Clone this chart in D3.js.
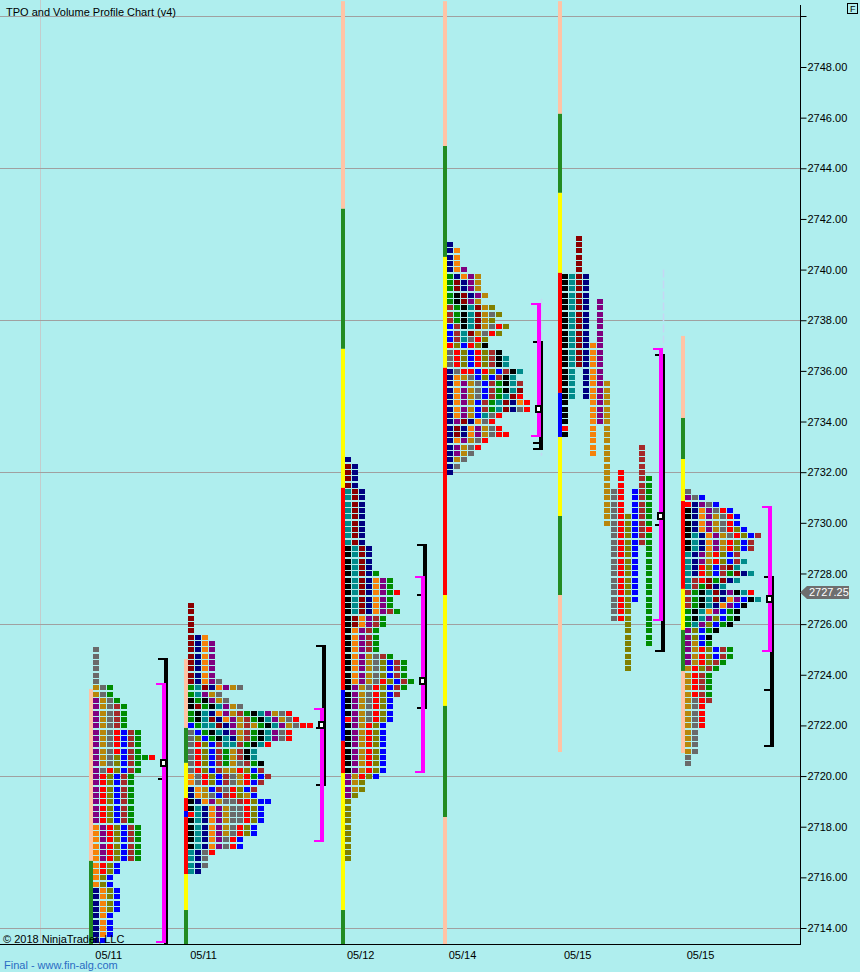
<!DOCTYPE html>
<html lang="en">
<head>
<meta charset="utf-8">
<script src="https://d3js.org/d3.v7.min.js"></script>
<style>
  body { margin: 0; background: #AFEEEE; }
  text { font-family: "Liberation Sans", Arial, sans-serif; }
</style>
</head>
<body>
<script>
// price axis
const priceTicks = [2714, 2716, 2718, 2720, 2722, 2724, 2726, 2728, 2730, 2732,
                    2734, 2736, 2738, 2740, 2742, 2744, 2746, 2748];
const gridPrices = [2714, 2720, 2726, 2732, 2738, 2744, 2750];
const tickSize = 0.25;
const lastPrice = 2727.25;

// sessions (bar index of first TPO column)
const dateLabels = ["05/11", "05/11", "05/12", "05/14", "05/15", "05/15"];
const sessionBar = [13.3, 26.85, 49.3, 63.85, 80.3, 97.85];
const topPrice = [2725.0, 2726.75, 2732.5, 2741.0, 2741.25, 2731.25];

// one letter per 30 min period colour
const periodColor = {
  k: "#000000", n: "#000080", m: "#8B0000", t: "#008B8B", G: "#008C00",
  O: "#F5820A", p: "#800080", d: "#B8860B", g: "#6A6A6A", r: "#FF0000",
  o: "#808000", B: "#0000FF", b: "#A52A2A"
};
const volColor = { P: "#FFC3A5", G: "#228B22", Y: "#FFFF00", R: "#FF0000", B: "#0000FF" };

// TPO rows, top price downwards, left to right
const profile1 = [
  "g", "g", "g", "g", "g", "g",
  "dgG", "dgG", "pdgG",
  "pdgbG", "pdgbG", "pdgbG", "pdgbG",
  "pdgrBbG", "pdgrBbG", "pdgrBbG", "pdgrBbG",
  "pdgoBbGGr", "pdgoBbG", "pgroBbG",
  "proBbG", "proBbG", "proBbG", "proBbG", "proBbG", "proBbG", "proBbG", "proBbG",
  "OproBbG", "OproBbG", "OproBbG", "OproBbG", "OproBbG", "OproBbG",
  "OroB", "OroB", "OoB", "OoB",
  "nOoB", "nOoB", "nOoB", "nOoB",
  "nOB", "nOB", "nOB", "nOB", "nB"
];
const profile2 = [
  "m", "m", "m", "m", "m", "mnO",
  "mnOp", "mnOp", "mnOp", "mnOp", "mnOp", "mnOp", "mnOpg",
  "GtmnOpdg", "Gtpdg", "kGkpdg", "kmGktpdg",
  "GktnOpdbGktpdgr", "GktmnOpdbGktpdgr", "BGttmnpdbdGktpdgrr",
  "gBGktnpdbGktpgr", "goBGktndbGktpgr", "groBbttbGktr",
  "groBbGdbkt", "groBbGdbkt", "groBbGdgbGk", "groBbddroBb",
  "OgroBbgdrGBb", "OgroBbgdrBb", "nOdBbgroBb", "nOdgBbrodB",
  "knOpdggbroBB", "ktnOpdggroB", "rtnOpdggroB", "ktnOpdggroB",
  "ktnOpdgroB", "ktnOpdgroB", "ktnOpgrB", "ktnOpgrB",
  "tngr", "tng", "tng", "tn"
];
const profile3 = [
  "n", "mn", "mn", "mn", "mn",
  "tmn", "tmn", "tmn", "tmn", "tmn", "tmn", "tmn", "tmn", "tmn",
  "ktmn", "ktmn", "ktmn", "ktmn", "ktmnG",
  "ktmnOpG", "ktmnOpG", "ktmnOpGr", "ktmnOpG", "ktmnOpG",
  "ktmnOpbG", "kmOpbG", "kmOpbG",
  "kOpbG", "kOpbG", "kOpbG", "kOpbG", "kOpdgbG",
  "kOpdgoBbG", "kOpdgoBbG", "kOpdgoBbG", "kOpdgroBbG", "kpdgroBbG", "kpdgroBb",
  "kpdgroB", "kpdgroB", "kpdgroB", "rpdgroB",
  "kpdroB", "kpdroB", "kpdroB", "kpdroB", "kpdroB", "kpdroB", "kpdroB", "kpdroB",
  "pdroB", "pdo", "pdo", "po",
  "o", "o", "o", "o", "o", "o", "o", "o", "o", "o"
];
const profile4 = [
  "n", "nO", "nO", "nO", "nOp", "GnOpd", "Gmnpd", "Gmnpd", "Gkmnpd", "Gkmpd",
  "bGktmdo", "bGktmdgo", "bGktmdo", "Bbktmdgro", "Bbtmdgro", "Bbtgro",
  "roBrok", "groBrobk", "groBrobkt", "groBrobkt",
  "ngrrBroBbkt", "nOdgBoBbkt", "nOpdgBbGktb", "nOpdgBbGktm", "nOpdgBbGtmr",
  "nOpdBbGtmnOr", "nOpdBbGtmngr", "nOpdBtgr", "npmnOgr", "nmnOpdgr", "nmnOpdgrr",
  "nOpdgr", "npdgr", "npdg", "ndg", "ng", "n"
];
// split profile: one column per period, [letter, high, low]
const profile5 = [
  [["k", 2739.75, 2734.0], ["r", 2733.75, 2733.75], ["k", 2733.5, 2733.5]],
  [["t", 2739.75, 2735.0]],
  [["m", 2741.25, 2736.25]],
  [["n", 2739.75, 2735.0]],
  [["O", 2737.0, 2732.75]],
  [["p", 2738.75, 2734.0]],
  [["d", 2735.5, 2730.0]],
  [["g", 2731.25, 2726.25]],
  [["r", 2732.0, 2726.25]],
  [["o", 2730.25, 2724.25]],
  [["B", 2731.25, 2727.0]],
  [["b", 2733.0, 2729.25]],
  [["G", 2731.75, 2730.0], ["r", 2729.75, 2729.75], ["G", 2729.5, 2725.25]]
];
const profile6 = [
  "g", "pgB", "rnpgB", "knOpgrB", "knOpdgrB", "knOpdgrB", "knOpdgroB",
  "ktnOpdgroBb", "ktnOpdroBb", "ktnOpdroBb", "tnpdroBb", "tnpdroBbt", "tnroBbmt",
  "tnroBbGmnt", "tbrmGmnt", "tbGmnt", "bGktmnpktr", "bGktmnOpBkt", "bGktnOpBk",
  "GktOpBGk", "GktpoBGk", "GtpoBGk", "poBGk", "poBk", "pdBG",
  "pdroBbG", "pdroBbG", "pdrobG", "drobG", "drbG", "drbG", "drbG", "drbG",
  "dgrb", "dgr", "dgr", "dgr", "dgr", "dg", "dg", "dg", "dg", "g", "g"
];

// volume bars left of each session: [high, low, colour]
const volBars = [
  [[2723.44, 2716.65, "P"], [2716.65, 2713.0, "G"]],
  [[2724.62, 2721.9, "P"], [2721.9, 2720.52, "G"], [2720.52, 2719.13, "Y"], [2719.13, 2718.62, "R"],
   [2718.62, 2718.38, "B"], [2718.38, 2716.13, "R"], [2716.13, 2714.71, "Y"], [2714.71, 2713.0, "G"]],
  [[2750.6, 2742.4, "P"], [2742.4, 2736.87, "G"], [2736.87, 2731.38, "Y"], [2731.38, 2723.4, "R"],
   [2723.4, 2721.39, "B"], [2721.39, 2720.12, "R"], [2720.12, 2714.71, "Y"], [2714.71, 2713.0, "G"]],
  [[2750.6, 2744.88, "P"], [2744.88, 2740.5, "G"], [2740.5, 2736.12, "Y"], [2736.12, 2727.15, "R"],
   [2727.15, 2722.77, "Y"], [2722.77, 2718.38, "G"], [2718.38, 2713.0, "P"]],
  [[2750.6, 2746.15, "P"], [2746.15, 2743.03, "G"], [2743.03, 2739.87, "Y"], [2739.87, 2735.13, "R"],
   [2735.13, 2733.39, "B"], [2733.39, 2730.27, "Y"], [2730.27, 2727.15, "G"], [2727.15, 2720.95, "P"]],
  [[2737.38, 2734.14, "P"], [2734.14, 2732.52, "G"], [2732.52, 2730.86, "Y"], [2730.86, 2727.39, "R"],
   [2727.39, 2725.77, "Y"], [2725.77, 2724.15, "G"], [2724.15, 2720.91, "P"]]
];

// value area (magenta), range bracket (black), extra tick, point of control
const bracketBar = [23.19, 45.71, 60.14, 76.71, 94.14, 109.71];
const vaHigh = [2723.68, 2722.69, 2727.9, 2738.68, 2736.91, 2730.67];
const vaLow = [2713.4, 2717.4, 2720.12, 2733.39, 2726.12, 2724.9];
const rangeHigh = [2724.66, 2725.18, 2729.17, 2737.18, 2736.67, 2727.9];
const rangeLow = [2713.2, 2719.61, 2722.65, 2732.88, 2724.9, 2721.15];
const midTick = [2719.88, 2721.9, 2727.15, 2733.15, 2729.92, 2723.4];
const pocPrice = [2720.5, 2722.0, 2723.75, 2734.5, 2730.25, 2727.0];
// faint single-print guides
const guideBar = [77.3, 94.7];
const guideHigh = [2738.85, 2740.0];
const guideLow = [2732.65, 2736.9];

const svg = d3.select("body").append("svg")
  .attr("width", 860).attr("height", 972)
  .style("display", "block").style("background", "#AFEEEE");

const y = d3.scaleLinear().domain([2714, 2748]).range([928, 67]);
const x = d3.scaleLinear().domain([0, 1]).range([0, 7]); // one TPO column per unit

const plotW = 800, plotH = 944;

svg.append("defs").append("clipPath").attr("id", "plot")
  .append("rect").attr("x", 0).attr("y", 0).attr("width", plotW).attr("height", plotH);

const plot = svg.append("g").attr("clip-path", "url(#plot)");

plot.append("line")
  .attr("x1", 40.5).attr("x2", 40.5).attr("y1", 0).attr("y2", plotH)
  .attr("stroke", "#C4CCCC");

plot.selectAll(".grid").data(gridPrices).enter().append("line")
  .attr("class", "grid")
  .attr("x1", 0).attr("x2", plotW)
  .attr("y1", d => Math.round(y(d)) + 0.5).attr("y2", d => Math.round(y(d)) + 0.5)
  .attr("stroke", "#A0A0A0");

svg.append("text").attr("x", 6).attr("y", 16).attr("font-size", 11)
  .text("TPO and Volume Profile Chart (v4)");
svg.append("text").attr("x", 3).attr("y", 943).attr("font-size", 11)
  .text("\u00A9 2018 NinjaTrader, LLC");

// volume bars
volBars.forEach((segs, i) => {
  plot.selectAll(".vb" + i).data(segs).enter().append("rect")
    .attr("x", Math.round(x(sessionBar[i])) - 4)
    .attr("width", 4)
    .attr("y", d => y(d[0]))
    .attr("height", d => y(d[1]) - y(d[0]))
    .attr("fill", d => volColor[d[2]]);
});

// faint guides
guideBar.forEach((b, i) => {
  plot.append("line")
    .attr("x1", Math.round(x(b)) + 0.5).attr("x2", Math.round(x(b)) + 0.5)
    .attr("y1", y(guideHigh[i])).attr("y2", y(guideLow[i]))
    .attr("stroke", "#C6D6F4").attr("stroke-width", 1.5).attr("stroke-dasharray", "8,3");
});

// build cells
const rowH = y(2714) - y(2714 + tickSize);
const cells = [];
[profile1, profile2, profile3, profile4, null, profile6].forEach((rows, i) => {
  if (!rows) return;
  rows.forEach((row, r) => {
    const price = topPrice[i] - r * tickSize;
    row.split("").forEach((ch, j) => {
      if (ch !== ".") cells.push({ bar: sessionBar[i] + j, price, c: ch });
    });
  });
});
profile5.forEach((col, j) => {
  col.forEach(seg => {
    for (let p = seg[1]; p >= seg[2] - 1e-6; p -= tickSize) {
      cells.push({ bar: sessionBar[4] + j, price: p, c: seg[0] });
    }
  });
});

plot.append("g").attr("shape-rendering", "crispEdges")
  .selectAll("rect").data(cells).enter().append("rect")
  .attr("x", d => Math.round(x(d.bar)))
  .attr("y", d => Math.round(y(d.price) - rowH / 2) + 0.5)
  .attr("width", x(1) - x(0) - 1)
  .attr("height", rowH - 1.2)
  .attr("fill", d => periodColor[d.c]);

// brackets
const br = plot.append("g").attr("shape-rendering", "crispEdges");
bracketBar.forEach((b, i) => {
  const mx = Math.round(x(b));
  const kx = mx + 2;
  const rH = Math.round(y(rangeHigh[i])), rL = Math.round(y(rangeLow[i]));
  const vH = Math.round(y(vaHigh[i])), vL = Math.round(y(vaLow[i]));
  // black range bracket
  br.append("rect").attr("x", kx).attr("width", 4)
    .attr("y", rH).attr("height", rL - rH).attr("fill", "#000");
  br.append("rect").attr("x", kx - 6).attr("width", 10)
    .attr("y", rH).attr("height", 2).attr("fill", "#000");
  br.append("rect").attr("x", kx - 6).attr("width", 10)
    .attr("y", rL - 2).attr("height", 2).attr("fill", "#000");
  br.append("rect").attr("x", kx - 6).attr("width", 6)
    .attr("y", Math.round(y(midTick[i])) - 1).attr("height", 2).attr("fill", "#000");
  // magenta value area
  br.append("rect").attr("x", mx).attr("width", 4)
    .attr("y", vH).attr("height", vL - vH).attr("fill", "#FF00FF");
  br.append("rect").attr("x", mx - 6).attr("width", 10)
    .attr("y", vH).attr("height", 2).attr("fill", "#FF00FF");
  br.append("rect").attr("x", mx - 6).attr("width", 10)
    .attr("y", vL - 2).attr("height", 2).attr("fill", "#FF00FF");
  // poc box
  const py = Math.round(y(pocPrice[i]));
  br.append("rect").attr("x", mx - 2).attr("width", 8)
    .attr("y", py - 4).attr("height", 8).attr("fill", "#000");
  br.append("rect").attr("x", mx + 0).attr("width", 3)
    .attr("y", py - 2).attr("height", 4).attr("fill", "#fff");
});

// bottom date axis
const xAxis = d3.axisBottom(x)
  .tickValues(sessionBar.map(b => b + 2.15))
  .tickFormat((d, i) => dateLabels[i])
  .tickSize(0).tickSizeOuter(0).tickPadding(7);
const gx = svg.append("g").attr("transform", "translate(0," + plotH + ")").call(xAxis);
gx.select(".domain").remove();
gx.selectAll("text").attr("font-size", 11).attr("font-family", "Liberation Sans, Arial, sans-serif");
svg.append("line").attr("x1", 0).attr("x2", plotW + 0.5)
  .attr("y1", plotH + 0.5).attr("y2", plotH + 0.5).attr("stroke", "#000");

// right price axis
const yAxis = d3.axisRight(y).tickValues(priceTicks)
  .tickFormat(d3.format(".2f")).tickSize(6).tickPadding(1);
const gy = svg.append("g").attr("transform", "translate(" + (plotW + 0.5) + ",0)").call(yAxis);
gy.select(".domain").remove();
gy.selectAll("text").attr("font-size", 11).attr("font-family", "Liberation Sans, Arial, sans-serif");
gy.append("line").attr("x1", 0).attr("x2", 6)
  .attr("y1", Math.round(y(2750)) + 0.5).attr("y2", Math.round(y(2750)) + 0.5).attr("stroke", "#000");
svg.append("line").attr("x1", plotW + 0.5).attr("x2", plotW + 0.5)
  .attr("y1", 5).attr("y2", plotH + 1).attr("stroke", "#000");

// last price label
const ly = y(lastPrice);
svg.append("path")
  .attr("d", `M${plotW},${ly} L${plotW + 7},${ly - 6.5} L${plotW + 49},${ly - 6.5} L${plotW + 49},${ly + 6.5} L${plotW + 7},${ly + 6.5} Z`)
  .attr("fill", "#6E6E6E");
svg.append("text").attr("x", plotW + 9).attr("y", ly + 4).attr("font-size", 11)
  .attr("fill", "#fff").text(d3.format(".2f")(lastPrice));

// F box
svg.append("rect").attr("x", 847.5).attr("y", 3.5).attr("width", 10).attr("height", 10)
  .attr("fill", "none").attr("stroke", "#000");
svg.append("text").attr("x", 850).attr("y", 12).attr("font-size", 9).text("F");

svg.append("text").attr("x", 4).attr("y", 969).attr("font-size", 11)
  .attr("fill", "#2A6CC4").text("Final - www.fin-alg.com");
</script>
</body>
</html>
